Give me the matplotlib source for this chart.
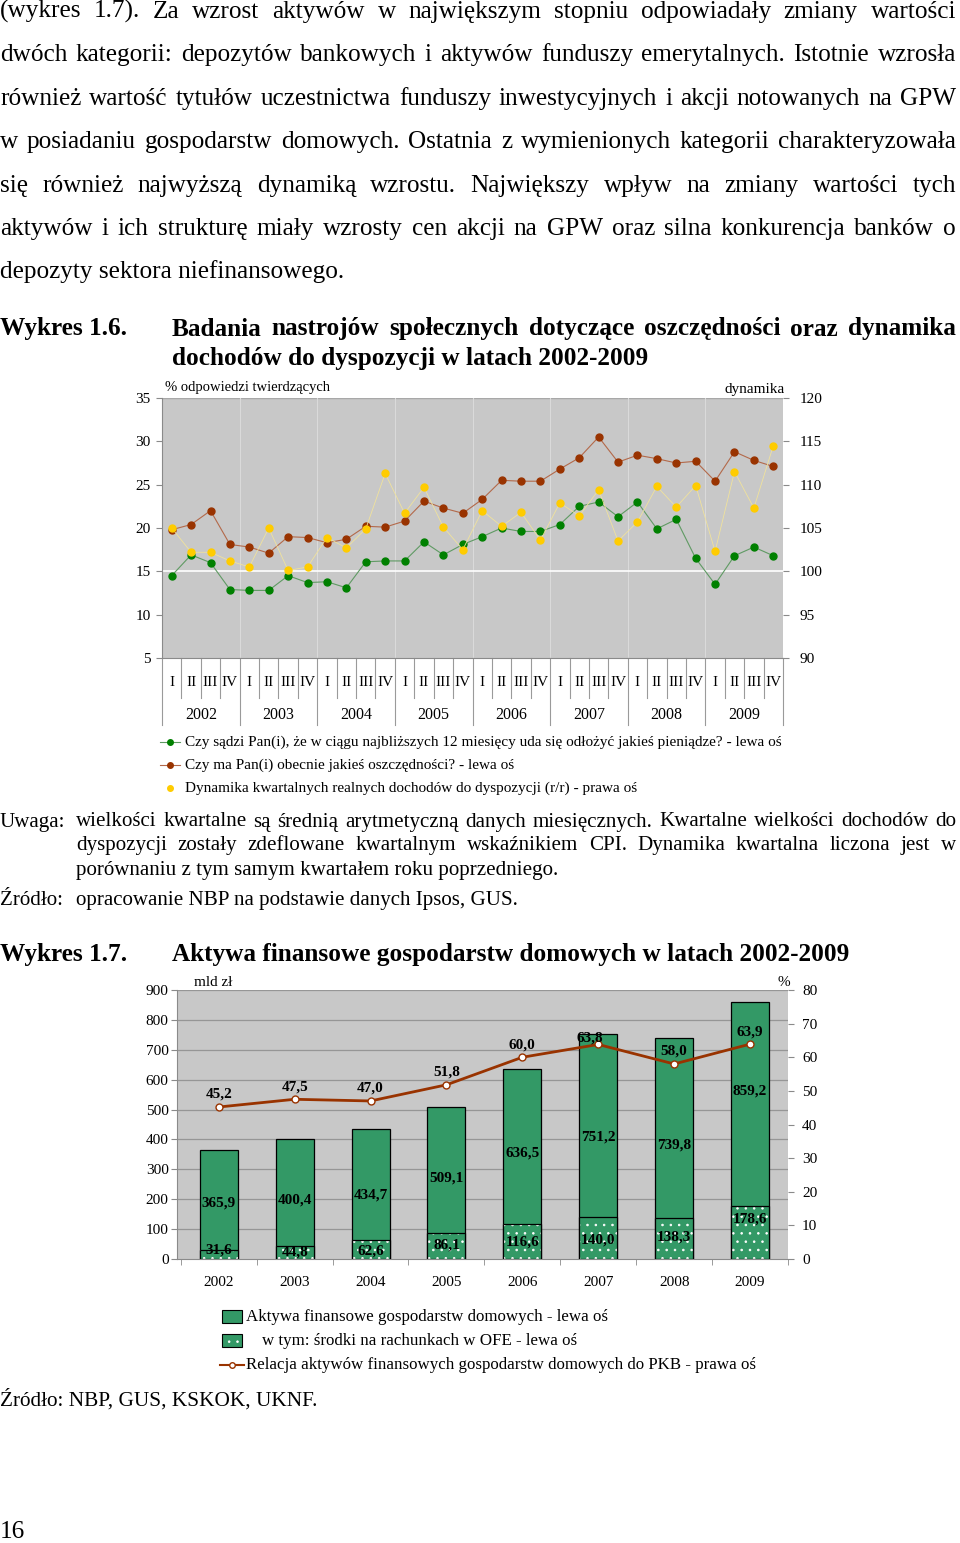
import numpy as np
import matplotlib
matplotlib.use("Agg")
import matplotlib.pyplot as plt
from matplotlib.lines import Line2D
from matplotlib.patches import Rectangle
from matplotlib.font_manager import FontProperties

plt.rcParams.update({"font.family": ["Liberation Serif", "DejaVu Serif"], "hatch.linewidth": 0.6})

# ---------- data: Wykres 1.6 (quarterly 2002-2009) ----------
quarters = ["I", "II", "III", "IV"] * 8
years1 = ["2002", "2003", "2004", "2005", "2006", "2007", "2008", "2009"]
save_next12m = [14.5, 16.9, 16.0, 12.9, 12.8, 12.8, 14.5, 13.7, 13.8, 13.1, 16.1, 16.2, 16.2, 18.4, 16.9, 18.1,
                19.0, 20.0, 19.6, 19.6, 20.4, 22.5, 23.0, 21.3, 23.0, 19.9, 21.0, 16.5, 13.5, 16.8, 17.8, 16.8]
have_savings = [19.8, 20.4, 22.0, 18.1, 17.8, 17.1, 19.0, 18.9, 18.3, 18.7, 20.2, 20.1, 20.8, 23.1, 22.3, 21.7,
                23.3, 25.5, 25.4, 25.4, 26.8, 28.1, 30.5, 27.6, 28.4, 28.0, 27.5, 27.7, 25.4, 28.8, 27.8, 27.1]
income_dyn = [105.0, 102.2, 102.2, 101.2, 100.5, 105.0, 100.1, 100.5, 103.9, 102.7, 104.9, 111.3, 106.7, 109.7, 105.1, 102.5,
              107.0, 105.2, 106.8, 103.6, 107.9, 106.4, 109.4, 103.5, 105.7, 109.8, 107.4, 109.9, 102.3, 111.5, 107.3, 114.5]

# ---------- data: Wykres 1.7 (annual) ----------
years2 = ["2002", "2003", "2004", "2005", "2006", "2007", "2008", "2009"]
assets = [365.9, 400.4, 434.7, 509.1, 636.5, 751.2, 739.8, 859.2]
ofe = [31.6, 44.8, 62.6, 86.1, 116.6, 140.0, 138.3, 178.6]
ratio_gdp = [45.2, 47.5, 47.0, 51.8, 60.0, 63.8, 58.0, 63.9]
# where Excel put the value labels (left-axis units)
assets_lab_y = [187, 197, 214, 271, 354, 408, 381, 562]
ofe_lab_y = [30, 23, 27, 47, 57, 64, 74, 134]

W, H = 960, 1543
fig = plt.figure(figsize=(W / 100, H / 100), dpi=100)
R = fig.canvas.get_renderer()
fx = lambda x: x / W
fy = lambda y: 1 - y / H

def put(x, y, s, size, **kw):
    # y is the visual middle of the line; place on a common baseline so accents don't shift words
    fp = FontProperties(size=size, weight=kw.get("fontweight", "normal"))
    _, h, d = R.get_text_width_height_descent("lp", fp, ismath=False)
    return fig.text(fx(x), fy(y + h / 2 - d), s, fontsize=size, va="baseline", **kw)

def width(s, size, weight="normal"):
    t = fig.text(0, 0, s, fontsize=size, fontweight=weight)
    w = t.get_window_extent(R).width
    t.remove()
    return w

def fit(s, target, weight="normal"):
    return 10 * target / width(s, 10, weight)

def justify(y, s, x0, x1, size, **kw):
    words = s.split()
    ts = [put(x0, y, w, size, **kw) for w in words]
    ws = [t.get_window_extent(R).width for t in ts]
    gap = (x1 - x0 - sum(ws)) / (len(words) - 1)
    x = x0
    for t, w in zip(ts, ws):
        t.set_x(fx(x))
        x += w + gap

# ---------- page text ----------
body = ["(wykres 1.7). Za wzrost aktywów w największym stopniu odpowiadały zmiany wartości",
        "dwóch kategorii: depozytów bankowych i aktywów funduszy emerytalnych. Istotnie wzrosła",
        "również wartość tytułów uczestnictwa funduszy inwestycyjnych i akcji notowanych na GPW",
        "w posiadaniu gospodarstw domowych. Ostatnia z wymienionych kategorii charakteryzowała",
        "się również najwyższą dynamiką wzrostu. Największy wpływ na zmiany wartości tych",
        "aktywów i ich strukturę miały wzrosty cen akcji na GPW oraz silna konkurencja banków o",
        "depozyty sektora niefinansowego."]
fs_body = fit(body[-1], 344)
for i, line in enumerate(body):
    y = 12 + i * 43.4
    if i < len(body) - 1:
        justify(y, line, 0, 956, fs_body)
    else:
        put(0, y, line, fs_body)

fs_title = fit("Wykres 1.6.", 127, "bold")
put(0, 329, "Wykres 1.6.", fs_title, fontweight="bold")
justify(329, "Badania nastrojów społecznych dotyczące oszczędności oraz dynamika", 172, 956, fs_title, fontweight="bold")
put(172, 358, "dochodów do dyspozycji w latach 2002-2009", fs_title, fontweight="bold")

fs_note = fit("opracowanie NBP na podstawie danych Ipsos, GUS.", 443)
put(0, 822, "Uwaga:", fs_note)
justify(822, "wielkości kwartalne są średnią arytmetyczną danych miesięcznych. Kwartalne wielkości dochodów do", 76, 956, fs_note)
justify(846, "dyspozycji zostały zdeflowane kwartalnym wskaźnikiem CPI. Dynamika kwartalna liczona jest w", 76, 956, fs_note)
put(76, 870, "porównaniu z tym samym kwartałem roku poprzedniego.", fs_note)
put(0, 900, "Źródło:", fs_note)
put(76, 900, "opracowanie NBP na podstawie danych Ipsos, GUS.", fs_note)

put(0, 954, "Wykres 1.7.", fs_title, fontweight="bold")
put(172, 954, "Aktywa finansowe gospodarstw domowych w latach 2002-2009", fs_title, fontweight="bold")

fs_src = fit("Źródło: NBP, GUS, KSKOK, UKNF.", 318)
put(0, 1401, "Źródło: NBP, GUS, KSKOK, UKNF.", fs_src)
put(0, 1532, "16", fs_body)

GRAY_BG = "#c8c8c8"
SP = "#8a8a8a"

# ---------- Wykres 1.6 ----------
ax1 = fig.add_axes([fx(162), fy(658), (783 - 162) / W, 260 / H])
ax1.set_facecolor(GRAY_BG)
q = np.arange(1, 33)
ax1.set_xlim(0.5, 32.5)
ax1.set_ylim(5, 35)
ax1.set_yticks(range(5, 36, 5))
ax1.set_xticks([])
ax1.tick_params(axis="y", labelsize=11, length=4, color=SP, pad=4)
for s in ["top", "right"]:
    ax1.spines[s].set_visible(False)
ax1.spines["left"].set_color(SP)
ax1.spines["bottom"].set_color(SP)
ax1.axhline(35, color="#a8a8a8", lw=1, zorder=1)
for k in range(1, 8):
    ax1.axvline(4 * k + 0.5, color="#dadada", lw=0.8, zorder=1)
ax1.axhline(15, color="white", lw=1.2, zorder=1)
ax1.plot(q, have_savings, color="#b3694a", lw=0.8, marker="o", ms=5, mfc="#993300", mec="#993300", zorder=3)
ax1.plot(q, save_next12m, color="#5f9a63", lw=0.8, marker="o", ms=5, mfc="#008000", mec="#008000", zorder=3)

ax1r = ax1.twinx()
ax1r.set_ylim(90, 120)
ax1r.set_yticks(range(90, 121, 5))
ax1r.tick_params(axis="y", labelsize=11, length=4, color=SP, pad=8)
for s in ["top", "left", "bottom", "right"]:
    ax1r.spines[s].set_visible(False)
ax1r.plot(q, income_dyn, color="#f0e29c", lw=0.6, marker="o", ms=5, mfc="#ffcc00", mec="#ffcc00", zorder=4)

tr = ax1.get_xaxis_transform()
for i, lab in enumerate(quarters):
    ax1.text(i + 1, -0.096, lab, transform=tr, ha="center", va="center", fontsize=11)
for k, yr in enumerate(years1):
    ax1.text(4 * k + 2.5, -0.219, yr, transform=tr, ha="center", va="center", fontsize=11.5)
for k in range(33):
    ax1.plot([k + 0.5, k + 0.5], [0, -0.258 if k % 4 == 0 else -0.155], transform=tr,
             color="#9a9a9a", lw=0.8, clip_on=False)

put(165, 387, "% odpowiedzi twierdzących", 10.5)
put(785, 390, "dynamika", 11, ha="right")

leg1 = [("Czy sądzi Pan(i), że w ciągu najbliższych 12 miesięcy uda się odłożyć jakieś pieniądze? - lewa oś", "#5f9a63", "#008000", True),
        ("Czy ma Pan(i) obecnie jakieś oszczędności? - lewa oś", "#b3694a", "#993300", True),
        ("Dynamika kwartalnych realnych dochodów do dyspozycji (r/r) - prawa oś", "#eedc8a", "#ffcc00", False)]
for i, (lab, lc, mc, ln) in enumerate(leg1):
    y = 742 + i * 23
    if ln:
        fig.add_artist(Line2D([fx(160), fx(180)], [fy(y), fy(y)], color=lc, lw=0.8))
    fig.add_artist(Line2D([fx(170)], [fy(y)], marker="o", ms=4, mfc=mc, mec=mc, lw=0))
    put(185, y, lab, 10.95)

# ---------- Wykres 1.7 ----------
ax2 = fig.add_axes([fx(177), fy(1259), (788 - 177) / W, (1259 - 990) / H])
ax2.set_facecolor(GRAY_BG)
x2 = np.arange(len(years2))
ax2.set_xlim(-0.55, 7.5)
ax2.set_ylim(0, 900)
ax2.set_yticks(range(0, 901, 100))
for v in range(100, 901, 100):
    ax2.axhline(v, color="#969696", lw=0.9, zorder=1)
ax2.bar(x2, assets, 0.5, color="#339966", edgecolor="black", lw=0.9, zorder=3)
ax2.bar(x2, ofe, 0.5, color="#339966", edgecolor="white", hatch="..", lw=0, zorder=4)
ax2.bar(x2, ofe, 0.5, fill=False, edgecolor="black", lw=0.9, zorder=5)
for xi, v, ly in zip(x2, assets, assets_lab_y):
    ax2.text(xi, ly, f"{v:.1f}".replace(".", ","), ha="center", va="center", fontsize=11, fontweight="bold", zorder=6)
for xi, v, ly in zip(x2, ofe, ofe_lab_y):
    ax2.text(xi, ly, f"{v:.1f}".replace(".", ","), ha="center", va="center", fontsize=11, fontweight="bold", zorder=6)
ax2.set_xticks(x2)
ax2.set_xticklabels(years2)
ax2.set_xticks(np.arange(-0.5, 7.6, 1), minor=True)
ax2.tick_params(axis="x", which="major", length=0, labelsize=11, pad=12)
ax2.tick_params(axis="x", which="minor", length=4, color=SP)
ax2.tick_params(axis="y", labelsize=11, length=4, color=SP, pad=2)
for s in ["top", "right"]:
    ax2.spines[s].set_visible(False)
ax2.spines["left"].set_color(SP)
ax2.spines["bottom"].set_color(SP)

ax2r = ax2.twinx()
ax2r.set_ylim(0, 80)
ax2r.set_yticks(range(0, 81, 10))
ax2r.tick_params(axis="y", labelsize=11, length=4, color=SP, pad=6)
for s in ["top", "left", "bottom", "right"]:
    ax2r.spines[s].set_visible(False)
ax2r.plot(x2, ratio_gdp, color="#993300", lw=2, marker="o", ms=5, mfc="white", mec="#993300", mew=1, zorder=6)
for i, (xi, v) in enumerate(zip(x2, ratio_gdp)):
    dx, dy = (-6, 5) if i == 5 else (0, 9)
    ax2r.annotate(f"{v:.1f}".replace(".", ","), (xi, v), xytext=(dx, dy), textcoords="offset points",
                  ha="center", va="center", fontsize=11, fontweight="bold", zorder=7)

put(194, 983, "mld zł", 11)
put(790, 983, "%", 11, ha="right")

# legend 2
fig.add_artist(Rectangle((fx(222), fy(1323)), 20 / W, 13 / H, transform=fig.transFigure,
                         facecolor="#339966", edgecolor="black", lw=0.8))
fig.add_artist(Rectangle((fx(222), fy(1347)), 20 / W, 13 / H, transform=fig.transFigure,
                         facecolor="#339966", edgecolor="white", hatch="..", lw=0))
fig.add_artist(Rectangle((fx(222), fy(1347)), 20 / W, 13 / H, transform=fig.transFigure,
                         fill=False, edgecolor="black", lw=0.8))
fig.add_artist(Line2D([fx(220), fx(244)], [fy(1365), fy(1365)], color="#993300", lw=1.5))
fig.add_artist(Line2D([fx(232)], [fy(1365)], marker="o", ms=4, mfc="white", mec="#993300", lw=0))
put(246, 1317, "Aktywa finansowe gospodarstw domowych - lewa oś", 12.2)
put(262, 1341, "w tym: środki na rachunkach w OFE - lewa oś", 12.2)
put(246, 1365, "Relacja aktywów finansowych gospodarstw domowych do PKB - prawa oś", 12.2)

fig.savefig("out.png", dpi=100)
